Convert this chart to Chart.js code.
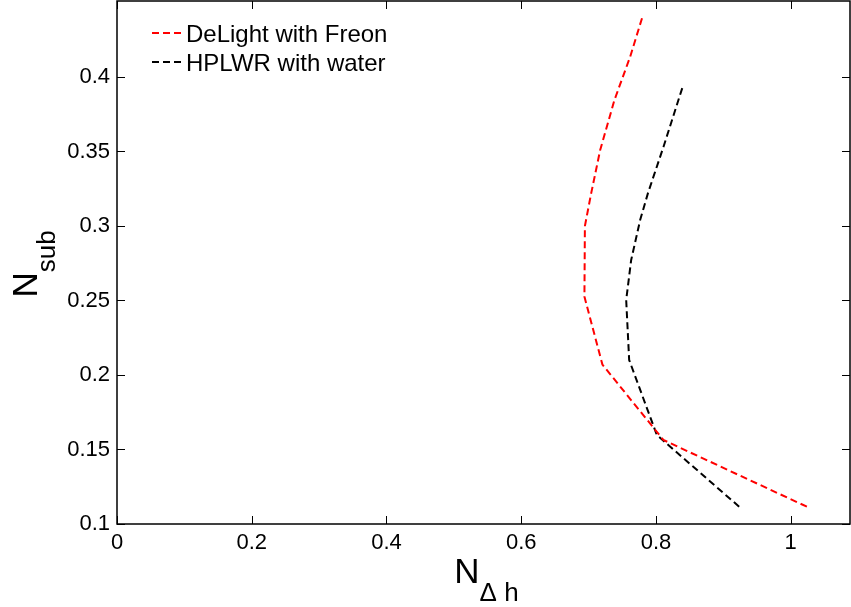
<!DOCTYPE html>
<html>
<head>
<meta charset="utf-8">
<script src="https://cdn.jsdelivr.net/npm/chart.js@4"></script>
<style>
  body { margin: 0; background: #fff; }
  #wrap { width: 851px; height: 607px; }
</style>
</head>
<body>
<div id="wrap"><canvas id="myChart" width="851" height="607"></canvas></div>
<script>
// N_sub vs N_dh, two loops

var freonX = [1.024, 0.811, 0.7205, 0.6938, 0.6945, 0.7038, 0.7172, 0.7384, 0.7617, 0.780];
var freonY = [0.1116, 0.1564, 0.207, 0.2526, 0.300, 0.3219, 0.351, 0.3846, 0.4136, 0.4405];

var waterX = [0.9235, 0.8013, 0.7602, 0.7558, 0.7632, 0.7765, 0.788, 0.8112, 0.8394];
var waterY = [0.1116, 0.1597, 0.2101, 0.2503, 0.2772, 0.304, 0.3219, 0.3532, 0.3931];

var xTicks = [0, 0.2, 0.4, 0.6, 0.8, 1];
var yTicks = [0.1, 0.15, 0.2, 0.25, 0.3, 0.35, 0.4];

var seriesNames = ["DeLight with Freon", "HPLWR with water"];

var FONT = '"Liberation Sans", Arial, sans-serif';

function toPoints(xs, ys){
  var pts = [];
  for (var i = 0; i < xs.length; i++) {
    pts.push({x: xs[i], y: ys[i]});
  }
  return pts;
}

// box, inward ticks, legend and axis titles drawn matlab style
var matlabBits = {
  id: "matlabBits",
  afterDraw: function(chart){
    var ctx = chart.ctx;
    var a = chart.chartArea;
    var xs = chart.scales.x, ys = chart.scales.y;
    var tl = 8;

    ctx.save();
    ctx.strokeStyle = "#000";
    ctx.lineWidth = 1.5;
    ctx.setLineDash([]);
    ctx.strokeRect(a.left, a.top, a.right - a.left, a.bottom - a.top);

    ctx.lineWidth = 1;
    ctx.beginPath();
    xTicks.forEach(function(v){
      var px = Math.round(xs.getPixelForValue(v)) + 0.5;
      ctx.moveTo(px, a.bottom); ctx.lineTo(px, a.bottom - tl);
      ctx.moveTo(px, a.top); ctx.lineTo(px, a.top + tl);
    });
    yTicks.forEach(function(v){
      var py = Math.round(ys.getPixelForValue(v)) + 0.5;
      ctx.moveTo(a.left, py); ctx.lineTo(a.left + tl, py);
      ctx.moveTo(a.right, py); ctx.lineTo(a.right - tl, py);
    });
    ctx.stroke();

    // legend
    var rows = [33, 62];
    chart.data.datasets.forEach(function(ds, i){
      ctx.strokeStyle = ds.borderColor;
      ctx.lineWidth = 2;
      ctx.setLineDash([7, 4]);
      ctx.beginPath();
      ctx.moveTo(152, rows[i]);
      ctx.lineTo(183, rows[i]);
      ctx.stroke();
      ctx.setLineDash([]);
      ctx.fillStyle = "#000";
      ctx.font = "24px " + FONT;
      ctx.textBaseline = "alphabetic";
      ctx.textAlign = "left";
      ctx.fillText(ds.label, 186, rows[i] + 9);
    });

    // x title N_{Δ h}
    ctx.fillStyle = "#000";
    ctx.textBaseline = "alphabetic";
    ctx.textAlign = "left";
    ctx.font = "35px " + FONT;
    var wN = ctx.measureText("N").width;
    ctx.font = "26px " + FONT;
    var wS = ctx.measureText("\u0394 h").width;
    var x0 = (a.left + a.right) / 2 + 3 - (wN + wS) / 2;
    ctx.font = "35px " + FONT;
    ctx.fillText("N", x0, 583);
    ctx.font = "26px " + FONT;
    ctx.fillText("\u0394 h", x0 + wN, 601);

    // y title N_{sub}
    ctx.translate(37, 264);
    ctx.rotate(-Math.PI / 2);
    ctx.font = "35px " + FONT;
    wN = ctx.measureText("N").width;
    ctx.font = "26px " + FONT;
    wS = ctx.measureText("sub").width;
    var u0 = -(wN + wS) / 2;
    ctx.font = "35px " + FONT;
    ctx.fillText("N", u0, 0);
    ctx.font = "26px " + FONT;
    ctx.fillText("sub", u0 + wN, 18);
    ctx.restore();
  }
};

var chartData = {
  datasets: [
    {
      label: seriesNames[0],
      data: toPoints(freonX, freonY),
      borderColor: "#ff0000",
      borderWidth: 2,
      borderDash: [7, 4],
      pointRadius: 0,
      showLine: true,
      fill: false,
      tension: 0
    },
    {
      label: seriesNames[1],
      data: toPoints(waterX, waterY),
      borderColor: "#000000",
      borderWidth: 2,
      borderDash: [7, 4],
      pointRadius: 0,
      showLine: true,
      fill: false,
      tension: 0
    }
  ]
};

var options = {
  responsive: false,
  animation: false,
  layout: { padding: { top: 1, right: 1, left: 0, bottom: 0 } },
  plugins: {
    legend: { display: false },
    tooltip: { enabled: false }
  },
  scales: {
    x: {
      type: "linear",
      min: 0,
      max: 1.088,
      grid: { display: false, drawTicks: false },
      border: { display: false },
      afterBuildTicks: function(scale){
        scale.ticks = xTicks.map(function(v){ return {value: v}; });
      },
      afterFit: function(scale){
        scale.height = 83;
        scale.paddingRight = 0;
        scale.paddingLeft = 0;
      },
      ticks: {
        padding: 6,
        color: "#000",
        font: { family: FONT, size: 22 },
        maxRotation: 0,
        callback: function(v){ return String(+v.toFixed(3)); }
      }
    },
    y: {
      type: "linear",
      min: 0.1,
      max: 0.451,
      grid: { display: false, drawTicks: false },
      border: { display: false },
      afterBuildTicks: function(scale){
        scale.ticks = yTicks.map(function(v){ return {value: v}; });
      },
      afterFit: function(scale){
        scale.width = 117;
        scale.paddingTop = 0;
        scale.paddingBottom = 0;
      },
      ticks: {
        padding: 7,
        color: "#000",
        font: { family: FONT, size: 22 },
        callback: function(v){ return String(+v.toFixed(3)); }
      }
    }
  }
};

var ctx = document.getElementById("myChart");

var myChart = new Chart(ctx, {
  type: "scatter",
  data: chartData,
  options: options,
  plugins: [matlabBits]
});
</script>
</body>
</html>
